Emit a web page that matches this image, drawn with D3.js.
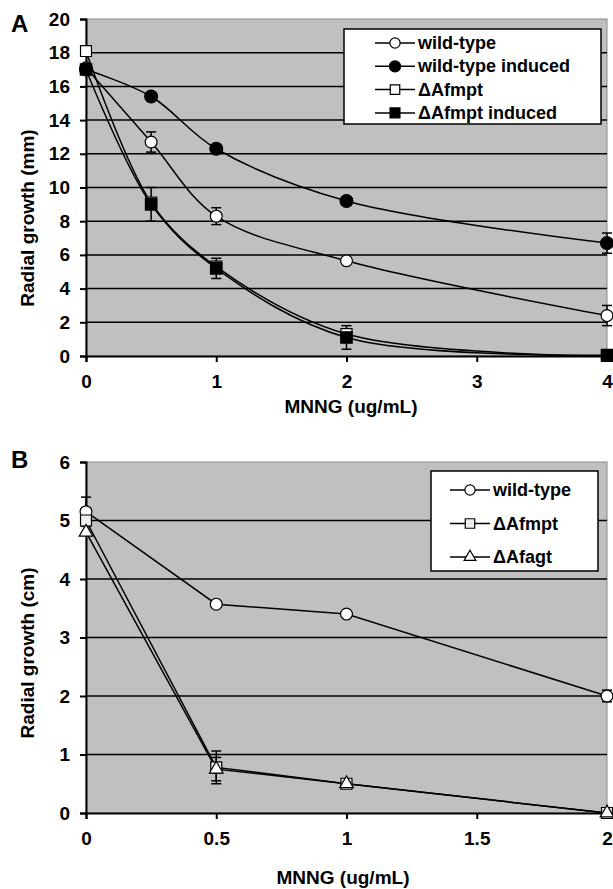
<!DOCTYPE html>
<html>
<head>
<meta charset="utf-8">
<script src="https://cdn.jsdelivr.net/npm/d3@7/dist/d3.min.js"></script>
<style>
  body { margin: 0; background: #fff; }
  svg text { font-family: "Liberation Sans", Arial, sans-serif; font-weight: bold; }
</style>
</head>
<body>
<div id="chart"></div>
<script>
// panel A data (mm)
const doseA = [0, 0.5, 1, 2, 4];
const wtA = [17.1, 12.7, 8.3, 5.65, 2.4];
const wtIndA = [17.0, 15.4, 12.3, 9.2, 6.7];
const mptA = [18.1, 9.1, 5.3, 1.3, 0.0];
const mptIndA = [17.0, 9.0, 5.2, 1.1, 0.05];
const wtErrA = [0, 0.6, 0.5, 0, 0.6];
const wtIndErrA = [0, 0, 0, 0, 0.6];
const mptErrA = [0, 0, 0, 0, 0];
const mptIndErrA = [0, 1.0, 0.6, 0.7, 0];
const yTicksA = [0, 2, 4, 6, 8, 10, 12, 14, 16, 18, 20];
const xTicksA = [0, 1, 2, 3, 4];

// panel B data (cm)
const doseB = [0, 0.5, 1, 2];
const wtB = [5.15, 3.57, 3.4, 2.0];
const mptB = [5.0, 0.78, 0.5, 0.0];
const agtB = [4.8, 0.75, 0.5, 0.0];
const wtErrB = [0.25, 0, 0, 0.1];
const mptErrB = [0, 0.28, 0, 0];
const agtErrB = [0, 0.2, 0, 0];
const yTicksB = [0, 1, 2, 3, 4, 5, 6];
const xTicksB = [0, 0.5, 1, 1.5, 2];

const svg = d3.select("#chart").append("svg")
  .attr("width", 613)
  .attr("height", 889);

function drawPanel(p) {
  const x = d3.scaleLinear().domain(p.xDomain).range([p.left, p.right]);
  const y = d3.scaleLinear().domain(p.yDomain).range([p.bottom, p.top]);
  const g = svg.append("g");

  // plot background
  g.append("rect")
    .attr("x", p.left).attr("y", p.top)
    .attr("width", p.right - p.left).attr("height", p.bottom - p.top)
    .attr("fill", "#c0c0c0")
    .attr("stroke", "#8a8a8a").attr("stroke-width", 1);

  // gridlines
  g.selectAll(".grid")
    .data(p.yTicks.filter(d => d > p.yDomain[0] && d < p.yDomain[1]))
    .enter().append("line")
    .attr("x1", p.left).attr("x2", p.right)
    .attr("y1", d => y(d)).attr("y2", d => y(d))
    .attr("stroke", "#000").attr("stroke-width", 1.5);

  // axes
  const yAxis = g.append("g")
    .attr("transform", "translate(" + p.left + ",0)")
    .call(d3.axisLeft(y).tickValues(p.yTicks).tickSize(6).tickPadding(10).tickFormat(d3.format("")));
  const xAxis = g.append("g")
    .attr("transform", "translate(0," + p.bottom + ")")
    .call(d3.axisBottom(x).tickValues(p.xTicks).tickSize(6).tickPadding(13).tickFormat(d3.format("")));
  [yAxis, xAxis].forEach(a => {
    a.select(".domain").attr("stroke", "#000").attr("stroke-width", 2);
    a.selectAll(".tick line").attr("stroke", "#000").attr("stroke-width", 2);
    a.selectAll("text").attr("font-size", 19).attr("fill", "#000")
      .attr("font-family", "Liberation Sans, Arial, sans-serif").attr("font-weight", "bold");
  });

  // titles
  svg.append("text")
    .attr("x", 11).attr("y", p.letterY)
    .attr("font-size", 24).text(p.letter);
  svg.append("text")
    .attr("transform", "translate(34," + p.yLabelMid + ") rotate(-90)")
    .attr("text-anchor", "middle")
    .attr("font-size", 19).text(p.yLabel);
  svg.append("text")
    .attr("x", p.xLabelX).attr("y", p.xLabelY)
    .attr("text-anchor", "middle")
    .attr("font-size", 19).text(p.xLabel);

  const line = d3.line()
    .x((d, i) => x(p.dose[i]))
    .y(d => y(d))
    .curve(p.smooth ? d3.curveCatmullRom.alpha(0.5) : d3.curveLinear);

  // series lines
  p.series.forEach(s => {
    g.append("path")
      .datum(s.values)
      .attr("d", line)
      .attr("fill", "none")
      .attr("stroke", "#000")
      .attr("stroke-width", 1.5);
  });

  // error bars
  p.series.forEach(s => {
    const eb = g.append("g");
    s.values.forEach((v, i) => {
      const e = s.err[i];
      if (!e) return;
      const cx = x(p.dose[i]);
      eb.append("line").attr("x1", cx).attr("x2", cx)
        .attr("y1", y(v - e)).attr("y2", y(v + e))
        .attr("stroke", "#000").attr("stroke-width", 1.5);
      [v - e, v + e].forEach(t => {
        eb.append("line").attr("x1", cx - 5).attr("x2", cx + 5)
          .attr("y1", y(t)).attr("y2", y(t))
          .attr("stroke", "#000").attr("stroke-width", 1.5);
      });
    });
  });

  // markers
  p.series.forEach(s => {
    g.selectAll(null)
      .data(s.values)
      .enter().append("path")
      .attr("transform", (d, i) => "translate(" + x(p.dose[i]) + "," + y(d) + ")")
      .attr("d", d3.symbol().type(s.shape).size(s.size))
      .attr("fill", s.fill)
      .attr("stroke", "#000")
      .attr("stroke-width", 1.2);
  });

  // legend
  const lg = svg.append("g");
  lg.append("rect")
    .attr("x", p.legend.x).attr("y", p.legend.y)
    .attr("width", p.legend.w).attr("height", p.legend.h)
    .attr("fill", "#fff").attr("stroke", "#000").attr("stroke-width", 1.5);
  p.series.forEach((s, i) => {
    const ly = p.legend.y + p.legend.first + i * p.legend.step;
    const lx = p.legend.x + p.legend.lineX;
    lg.append("line").attr("x1", lx).attr("x2", lx + 40)
      .attr("y1", ly).attr("y2", ly)
      .attr("stroke", "#000").attr("stroke-width", 1.5);
    lg.append("path")
      .attr("transform", "translate(" + (lx + 20) + "," + ly + ")")
      .attr("d", d3.symbol().type(s.shape).size(s.size * 0.75))
      .attr("fill", s.fill).attr("stroke", "#000").attr("stroke-width", 1.2);
    lg.append("text")
      .attr("x", lx + 43).attr("y", ly + 6)
      .attr("font-size", 18).text(s.name);
  });
}

drawPanel({
  letter: "A", letterY: 32,
  left: 86, right: 607, top: 19, bottom: 356,
  xDomain: [0, 4], yDomain: [0, 20],
  xTicks: xTicksA, yTicks: yTicksA,
  dose: doseA, smooth: true,
  yLabel: "Radial growth (mm)", yLabelMid: 218,
  xLabel: "MNNG (ug/mL)", xLabelX: 351, xLabelY: 413,
  series: [
    { name: "wild-type", values: wtA, err: wtErrA, shape: d3.symbolCircle, fill: "#fff", size: 110 },
    { name: "wild-type induced", values: wtIndA, err: wtIndErrA, shape: d3.symbolCircle, fill: "#000", size: 130 },
    { name: "\u0394Afmpt", values: mptA, err: mptErrA, shape: d3.symbolSquare, fill: "#fff", size: 120 },
    { name: "\u0394Afmpt induced", values: mptIndA, err: mptIndErrA, shape: d3.symbolSquare, fill: "#000", size: 130 }
  ],
  legend: { x: 344, y: 29, w: 257, h: 95, first: 14, step: 23.3, lineX: 31 }
});

drawPanel({
  letter: "B", letterY: 468,
  left: 86, right: 607, top: 462, bottom: 813,
  xDomain: [0, 2], yDomain: [0, 6],
  xTicks: xTicksB, yTicks: yTicksB,
  dose: doseB, smooth: false,
  yLabel: "Radial growth (cm)", yLabelMid: 653,
  xLabel: "MNNG (ug/mL)", xLabelX: 343, xLabelY: 884,
  series: [
    { name: "wild-type", values: wtB, err: wtErrB, shape: d3.symbolCircle, fill: "#fff", size: 110 },
    { name: "\u0394Afmpt", values: mptB, err: mptErrB, shape: d3.symbolSquare, fill: "#eee", size: 120 },
    { name: "\u0394Afagt", values: agtB, err: agtErrB, shape: d3.symbolTriangle, fill: "#fff", size: 80 }
  ],
  legend: { x: 431, y: 471, w: 167, h: 100, first: 19, step: 33.5, lineX: 19 }
});
</script>
</body>
</html>
